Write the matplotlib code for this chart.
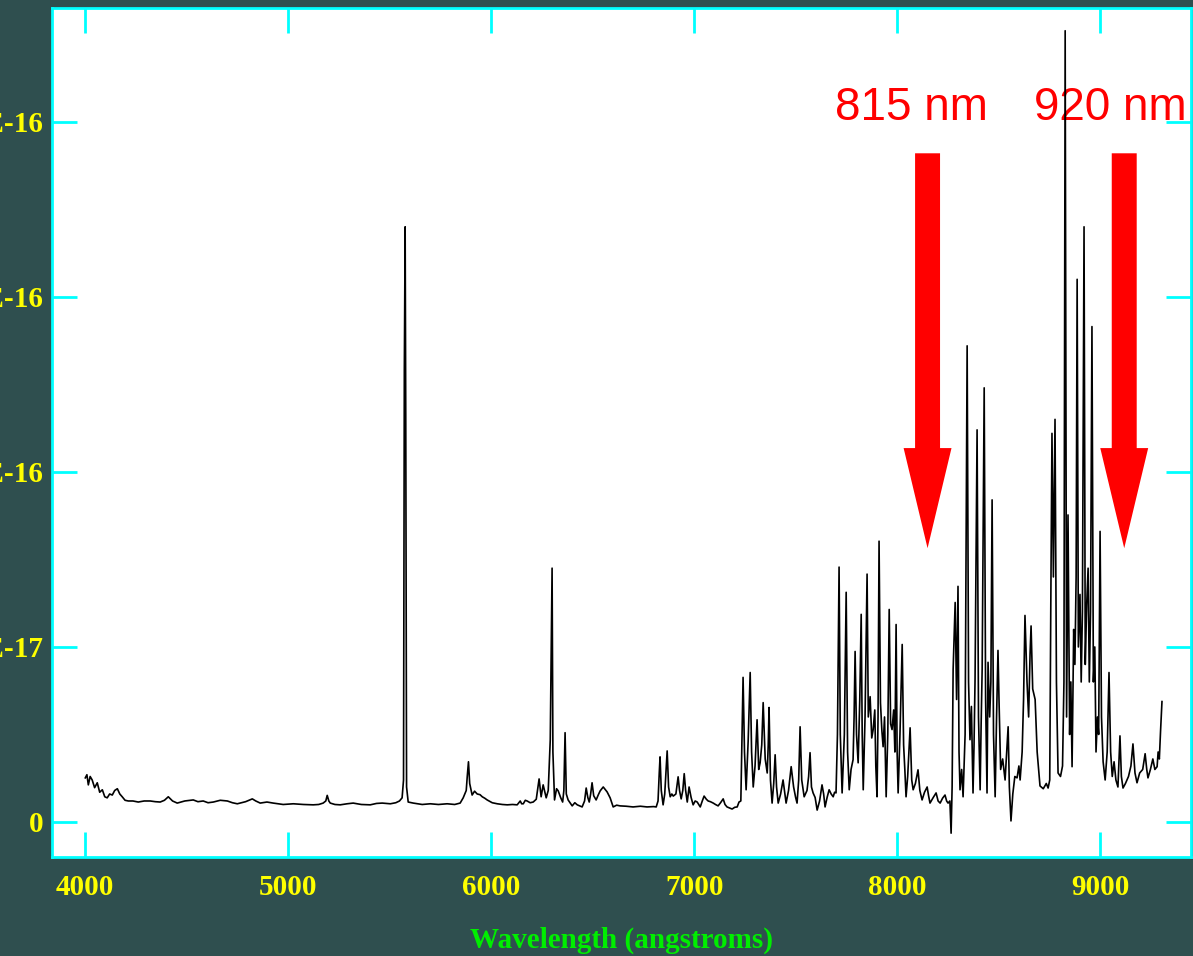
import matplotlib
matplotlib.use('Agg')
import matplotlib.pyplot as plt
from matplotlib.patches import FancyArrow
import numpy as np

# spectrum: wavelength (angstroms) and flux in units of 1e-17
wave = [
    4000, 4008, 4015, 4024, 4034, 4046, 4059, 4071, 4084, 4096, 4108, 4120, 4133, 4145, 4158, 4170,
    4182, 4196, 4212, 4235, 4261, 4290, 4320, 4345, 4369, 4390, 4409, 4430, 4453, 4490, 4532, 4555,
    4581, 4605, 4631, 4665, 4700, 4725, 4749, 4790, 4823, 4840, 4862, 4895, 4926, 4975, 5025, 5075,
    5123, 5150, 5172, 5185, 5192, 5200, 5207, 5230, 5256, 5290, 5320, 5360, 5404, 5435, 5463, 5503,
    5530, 5548, 5561, 5568, 5572, 5576, 5579, 5583, 5591, 5616, 5660, 5700, 5740, 5783, 5820, 5847,
    5862, 5877, 5882, 5888, 5894, 5906, 5918, 5931, 5945, 5956, 5968, 5980, 6005, 6030, 6055, 6079,
    6105, 6128, 6143, 6150, 6158, 6168, 6177, 6192, 6207, 6222, 6236, 6246, 6256, 6271, 6281, 6291,
    6300, 6304, 6312, 6322, 6330, 6342, 6352, 6358, 6364, 6370, 6379, 6399, 6412, 6424, 6448, 6460,
    6468, 6476, 6483, 6490, 6497, 6505, 6517, 6528, 6537, 6552, 6563, 6571, 6586, 6601, 6618, 6635,
    6665, 6699, 6735, 6768, 6800, 6813, 6822, 6828, 6832, 6838, 6847, 6855, 6862, 6867, 6874, 6882,
    6890, 6897, 6910, 6921, 6928, 6936, 6944, 6951, 6958, 6966, 6975, 6985, 6995, 7005, 7015, 7030,
    7040, 7049, 7060, 7069, 7080, 7094, 7105, 7118, 7130, 7143, 7152, 7162, 7175, 7187, 7200, 7212,
    7221, 7230, 7236, 7241, 7248, 7256, 7266, 7276, 7283, 7291, 7300, 7310, 7318, 7325, 7333, 7340,
    7350, 7360, 7365, 7369, 7376, 7384, 7392, 7399, 7406, 7414, 7426, 7438, 7445, 7453, 7465, 7478,
    7490, 7500, 7507, 7515, 7522, 7530, 7542, 7556, 7564, 7571, 7578, 7586, 7596, 7606, 7618, 7630,
    7638, 7645, 7655, 7665, 7675, 7685, 7692, 7699, 7706, 7714, 7720, 7729, 7740, 7749, 7756, 7764,
    7773, 7783, 7788, 7793, 7800, 7808, 7816, 7823, 7828, 7833, 7842, 7852, 7858, 7867, 7875, 7882,
    7890, 7895, 7901, 7906, 7911, 7918, 7925, 7931, 7938, 7946, 7954, 7961, 7968, 7975, 7983, 7989,
    7995, 8000, 8005, 8014, 8025, 8032, 8038, 8044, 8052, 8064, 8072, 8079, 8090, 8103, 8112, 8123,
    8135, 8148, 8155, 8162, 8178, 8192, 8202, 8212, 8224, 8236, 8244, 8251, 8260, 8266, 8271, 8276,
    8286, 8293, 8300, 8305, 8310, 8318, 8325, 8335, 8345, 8352, 8359, 8366, 8374, 8379, 8384, 8394,
    8401, 8409, 8414, 8419, 8429, 8436, 8443, 8448, 8456, 8462, 8468, 8475, 8483, 8490, 8497, 8502,
    8510, 8520, 8532, 8547, 8553, 8561, 8570, 8580, 8591, 8600, 8606, 8616, 8623, 8630, 8640, 8648,
    8655, 8660, 8668, 8680, 8690, 8704, 8720, 8735, 8744, 8752, 8757, 8763, 8770, 8778, 8785, 8793,
    8805, 8815, 8822, 8828, 8835, 8842, 8850, 8856, 8862, 8870, 8876, 8882, 8887, 8893, 8901, 8907,
    8913, 8921, 8927, 8934, 8941, 8947, 8953, 8960, 8967, 8974, 8980, 8987, 8993, 9000, 9007, 9015,
    9025, 9035, 9044, 9052, 9060, 9069, 9078, 9088, 9098, 9105, 9113, 9125, 9140, 9152, 9162, 9172,
    9182, 9195, 9210, 9222, 9230, 9236, 9248, 9260, 9270, 9281, 9286, 9292, 9298, 9305,
]
flux = [
    1.26, 1.35, 1.06, 1.30, 1.20, 0.98, 1.12, 0.85, 0.92, 0.72, 0.69, 0.80, 0.77, 0.90, 0.95, 0.80,
    0.72, 0.62, 0.60, 0.60, 0.57, 0.60, 0.60, 0.58, 0.57, 0.62, 0.72, 0.60, 0.54, 0.60, 0.63, 0.58,
    0.60, 0.55, 0.57, 0.62, 0.60, 0.55, 0.52, 0.58, 0.66, 0.60, 0.54, 0.57, 0.54, 0.50, 0.52, 0.50,
    0.49, 0.50, 0.54, 0.60, 0.76, 0.60, 0.54, 0.50, 0.49, 0.52, 0.54, 0.50, 0.49, 0.53, 0.54, 0.52,
    0.55, 0.60, 0.69, 1.20, 12.9, 17.0, 11.6, 1.00, 0.57, 0.54, 0.50, 0.52, 0.50, 0.52, 0.50, 0.54,
    0.69, 0.90, 1.30, 1.72, 1.10, 0.77, 0.88, 0.80, 0.78, 0.72, 0.68, 0.63, 0.55, 0.52, 0.50, 0.49,
    0.50, 0.49, 0.60, 0.52, 0.52, 0.62, 0.60, 0.55, 0.57, 0.65, 1.23, 0.72, 1.06, 0.69, 0.90, 2.35,
    7.25, 2.00, 0.63, 0.95, 0.89, 0.70, 0.57, 0.90, 2.55, 0.80, 0.63, 0.46, 0.55, 0.49, 0.43, 0.60,
    0.97, 0.70, 0.57, 0.80, 1.12, 0.75, 0.63, 0.78, 0.89, 1.00, 0.92, 0.86, 0.69, 0.43, 0.48, 0.46,
    0.45, 0.43, 0.45, 0.43, 0.44, 0.43, 0.60, 1.40, 1.86, 0.90, 0.49, 0.80, 1.50, 2.03, 1.00, 0.72,
    0.80, 0.74, 0.80, 1.29, 0.90, 0.66, 0.90, 1.38, 0.90, 0.57, 1.00, 0.70, 0.49, 0.60, 0.57, 0.43,
    0.60, 0.74, 0.65, 0.60, 0.58, 0.54, 0.50, 0.46, 0.55, 0.66, 0.50, 0.43, 0.40, 0.37, 0.42, 0.43,
    0.57, 0.60, 2.50, 4.13, 2.00, 0.92, 2.30, 4.27, 2.00, 1.00, 1.60, 2.92, 1.50, 1.69, 2.20, 3.41,
    1.80, 1.40, 2.20, 3.27, 1.20, 0.54, 1.10, 1.92, 1.00, 0.54, 0.80, 1.20, 0.90, 0.54, 0.90, 1.58,
    1.00, 0.70, 0.54, 1.20, 2.72, 1.20, 0.72, 0.90, 1.30, 1.98, 1.00, 0.83, 0.70, 0.34, 0.60, 1.06,
    0.80, 0.43, 0.70, 0.92, 0.80, 0.72, 0.85, 0.83, 2.50, 7.28, 2.50, 0.83, 2.50, 6.56, 2.00, 0.92,
    1.50, 1.78, 3.00, 4.87, 2.50, 1.69, 3.50, 5.93, 2.50, 0.92, 3.00, 7.08, 3.00, 3.58, 2.40, 2.64,
    3.20, 1.60, 0.72, 3.00, 8.02, 3.40, 2.60, 2.15, 3.00, 0.72, 2.50, 6.07, 2.80, 2.64, 3.20, 2.00,
    5.64, 2.00, 0.83, 2.50, 5.07, 2.20, 1.50, 0.72, 1.30, 2.69, 1.20, 0.92, 1.10, 1.49, 0.90, 0.63,
    0.85, 1.00, 0.75, 0.54, 0.70, 0.83, 0.60, 0.54, 0.68, 0.77, 0.60, 0.54, 0.60, -0.32, 1.00, 4.36,
    6.27, 3.50, 6.73, 2.00, 0.92, 1.50, 0.72, 2.50, 13.6, 4.00, 2.35, 3.30, 0.83, 2.20, 4.07, 11.2,
    3.00, 0.92, 2.80, 4.36, 12.4, 3.50, 0.83, 4.56, 3.00, 4.00, 9.20, 2.50, 0.72, 3.00, 4.90, 3.50,
    1.50, 1.80, 1.20, 2.72, 1.00, 0.03, 0.80, 1.30, 1.26, 1.60, 1.20, 2.00, 3.50, 5.90, 4.00, 3.00,
    4.80, 5.60, 3.80, 3.50, 2.00, 1.03, 0.95, 1.10, 0.97, 1.20, 6.00, 11.1, 7.00, 11.5, 4.00, 1.40,
    1.30, 1.60, 4.00, 22.6, 3.00, 8.77, 2.50, 4.00, 1.58, 5.50, 4.50, 7.00, 15.5, 5.00, 6.50, 4.00,
    6.00, 17.0, 4.50, 6.20, 7.25, 4.00, 6.00, 14.15, 4.00, 5.00, 2.00, 3.00, 2.50, 8.30, 3.00, 1.72,
    1.20, 2.00, 4.27, 2.00, 1.30, 1.72, 1.20, 1.00, 2.46, 1.30, 0.97, 1.10, 1.30, 1.60, 2.23, 1.40,
    1.12, 1.40, 1.50, 1.95, 1.50, 1.26, 1.50, 1.80, 1.50, 1.58, 2.00, 1.80, 2.60, 3.44,
]

xticks = [4000, 5000, 6000, 7000, 8000, 9000]
yticks = [0, 5, 10, 15, 20]
ytick_labels = ['0', '5.0E-17', '1.0E-16', '1.5E-16', '2.0E-16']

marks = ['815 nm', '920 nm']
mark_text_x = [8072, 9048]
mark_arrow_x = [8150, 9119]

bg = '#2f4f4f'
serif = ['Liberation Serif', 'DejaVu Serif']

fig = plt.figure(figsize=(11.93, 9.56), dpi=100)
fig.patch.set_facecolor(bg)
ax = fig.add_axes([52 / 1193, 99 / 956, 1139 / 1193, 849 / 956])
ax.set_facecolor('white')

ax.plot(wave, flux, color='black', lw=1.2, zorder=3)

ax.set_xlim(3836, 9448)
ax.set_ylim(-1.0, 23.25)

ax.set_xticks(xticks)
ax.set_yticks(yticks, ytick_labels)
ax.tick_params(direction='in', length=18, width=2, color='cyan',
               top=True, right=True, labelcolor='yellow', labelsize=21)
ax.tick_params(axis='x', pad=12)
ax.tick_params(axis='y', pad=6)
for lbl in ax.get_xticklabels() + ax.get_yticklabels():
    lbl.set_fontfamily(serif)
    lbl.set_fontweight('bold')
for sp in ax.spines.values():
    sp.set_color('cyan')
    sp.set_linewidth(2)

fig.text(622 / 1193, 8 / 956, 'Wavelength (angstroms)', color='#00ee00',
         fontsize=21, fontweight='bold', family=serif, ha='center', va='baseline')

# red arrows pointing at 815 nm and 920 nm
for label, tx, axx in zip(marks, mark_text_x, mark_arrow_x):
    ax.text(tx, 20.05, label, color='red', fontsize=33, family=['Liberation Sans', 'DejaVu Sans'],
            ha='center', va='baseline', zorder=2)
    ax.add_patch(FancyArrow(axx, 19.1, 0, 7.82 - 19.1, width=123, head_width=236,
                            head_length=2.86, length_includes_head=True,
                            color='red', lw=0, zorder=4))

fig.savefig('out.png', dpi=100, facecolor=bg)
